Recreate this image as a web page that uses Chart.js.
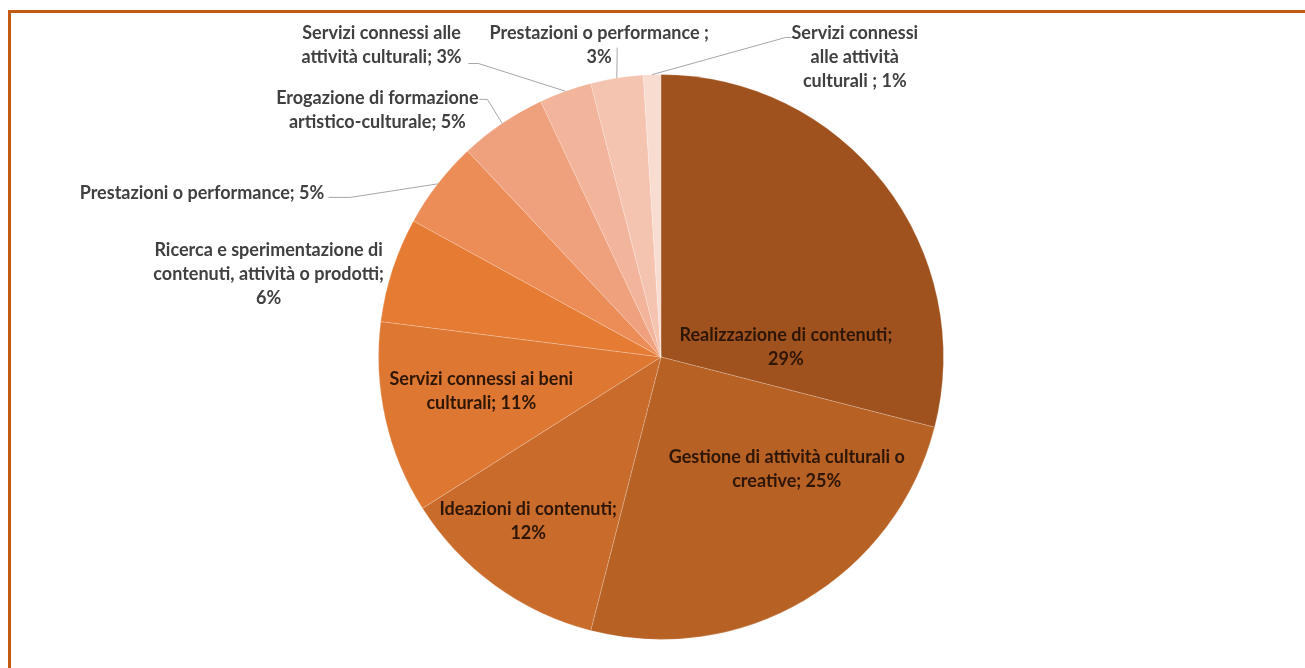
<!DOCTYPE html>
<html>
<head>
<meta charset="utf-8">
<script src="https://cdn.jsdelivr.net/npm/chart.js@4"></script>
<style>
  html, body { margin: 0; padding: 0; background: #fff; overflow: hidden; }
  #wrap { position: relative; width: 1305px; height: 668px; }
  #frame { position: absolute; left: 8px; top: 10px; width: 1400px; height: 800px;
           border-top: 3px solid #c55a11; border-left: 3px solid #c55a11; }
  #pieChart { position: absolute; left: 0; top: 0; }
</style>
</head>
<body>
<div id="wrap">
  <div id="frame"></div>
  <canvas id="pieChart" width="1305" height="668"></canvas>
</div>
<script>
const categories = [
  "Realizzazione di contenuti",
  "Gestione di attività culturali o creative",
  "Ideazioni di contenuti",
  "Servizi connessi ai beni culturali",
  "Ricerca e sperimentazione di contenuti, attività o prodotti",
  "Prestazioni o performance",
  "Erogazione di formazione artistico-culturale",
  "Servizi connessi alle attività culturali",
  "Prestazioni o performance ",
  "Servizi connessi alle attività culturali "
];
const shares = [29, 25, 12, 11, 6, 5, 5, 3, 3, 1];

const sliceColors = [
  '#a0521e', '#b76124', '#c86b2b', '#dd7731', '#e67b33',
  '#ec8c56', '#efa07c', '#f2b49a', '#f5c4b1', '#f9dcd0'
];

// label placement, in units of the pie radius from its centre
// words: how many words go on each line; a: leader attach point; stub: short horizontal bit
const labelLayout = [
  { inside: true, x: 0.442, y: -0.034, words: [3, 1] },
  { inside: true, x: 0.445, y: 0.398, words: [5, 2] },
  { inside: true, x: -0.470, y: 0.581, words: [3, 1] },
  { inside: true, x: -0.636, y: 0.122, words: [4, 2] },
  { x: -1.389, y: -0.293, words: [4, 4, 1] },
  { x: -1.625, y: -0.580, words: [4], ax: -1.177, ay: -0.565, stub: 22 },
  { x: -1.004, y: -0.873, words: [3, 2], ax: -0.643, ay: -0.912, stub: 8 },
  { x: -0.989, y: -1.104, words: [3, 3], ax: -0.682, ay: -1.039, stub: 10 },
  { x: -0.219, y: -1.102, words: [4, 1], ax: -0.155, ay: -1.095, stub: 0 },
  { x: 0.686, y: -1.062, words: [2, 2, 3], ax: 0.462, ay: -1.131, stub: -6 }
];

const LINE_H = 24;

function splitLines(text, counts) {
  const words = text.split(/\s+/);
  const lines = [];
  let i = 0;
  counts.forEach(n => {
    lines.push(words.slice(i, i + n).join(' '));
    i += n;
  });
  return lines;
}

const pieLabels = {
  id: 'pieLabels',
  afterDatasetsDraw(chart) {
    const ctx = chart.ctx;
    const arcs = chart.getDatasetMeta(0).data;
    ctx.save();
    ctx.font = 'bold 18px Lato, "Open Sans", sans-serif';
    ctx.textAlign = 'center';
    ctx.textBaseline = 'middle';
    arcs.forEach((arc, i) => {
      const { x, y, startAngle, endAngle, outerRadius } = arc.getProps(['x', 'y', 'startAngle', 'endAngle', 'outerRadius'], true);
      const r = outerRadius;
      const lay = labelLayout[i];
      const text = categories[i] + '; ' + shares[i] + '%';
      const lines = splitLines(text, lay.words);
      const cx = x + lay.x * r;
      const cy = y + lay.y * r;

      if (lay.ax !== undefined) {
        const mid = (startAngle + endAngle) / 2;
        const ex = x + Math.cos(mid) * r;
        const ey = y + Math.sin(mid) * r;
        const px = x + lay.ax * r;
        const py = y + lay.ay * r;
        ctx.strokeStyle = '#a6a6a6';
        ctx.lineWidth = 1;
        ctx.beginPath();
        ctx.moveTo(px, py);
        if (lay.stub) ctx.lineTo(px + lay.stub, py);
        ctx.lineTo(ex, ey);
        ctx.stroke();
      }

      ctx.fillStyle = lay.inside ? '#2e1607' : '#404040';
      const top = cy - (lines.length - 1) * LINE_H / 2;
      lines.forEach((ln, k) => ctx.fillText(ln, cx, top + k * LINE_H));
    });
    ctx.restore();
  }
};

new Chart(document.getElementById('pieChart'), {
  type: 'pie',
  data: {
    labels: categories,
    datasets: [{
      data: shares,
      backgroundColor: sliceColors,
      borderColor: 'rgba(255,255,255,0.2)',
      borderWidth: 1
    }]
  },
  options: {
    responsive: false,
    animation: false,
    devicePixelRatio: 1,
    layout: { padding: { top: 74, bottom: 28, left: 200, right: 183 } },
    plugins: {
      legend: { display: false },
      tooltip: { enabled: false }
    }
  },
  plugins: [pieLabels]
});
</script>
</body>
</html>
